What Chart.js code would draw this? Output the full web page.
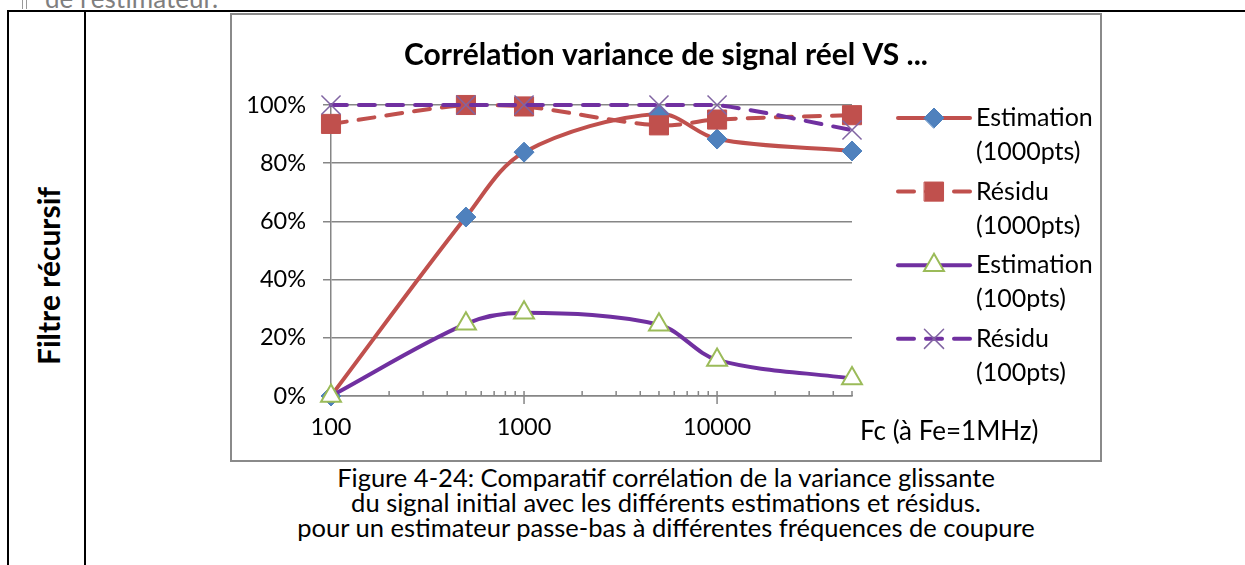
<!DOCTYPE html>
<html lang="fr">
<head>
<meta charset="UTF-8">
<title>Corrélation variance de signal réel VS ...</title>
<script src="https://cdn.jsdelivr.net/npm/chart.js"></script>
<style>
  body { margin: 0; width: 1245px; height: 565px; overflow: hidden; background: #fff; position: relative; font-family: Lato, "Open Sans", sans-serif; color: #000; }
  .prev { position: absolute; left: 45px; top: -15px; font-size: 26px; line-height: 26px; color: #7f7f7f; white-space: nowrap; }
  .prevrule { position: absolute; top: 0; width: 1px; height: 9px; background: #9a9a9a; }
  .rule { position: absolute; background: #000; }
  .side { position: absolute; left: 48px; top: 276px; transform: translate(-50%, -50%) rotate(-90deg); font-weight: 700; font-size: 30px; white-space: nowrap; }
  .box { position: absolute; left: 230px; top: 13px; width: 868px; height: 445px; border: 2px solid #8a8a8a; }
  .box canvas { display: block; }
  .caption { position: absolute; left: 230px; width: 872px; top: 465px; text-align: center; font-size: 25.5px; line-height: 25px; white-space: nowrap; }
</style>
</head>
<body>
<div class="prev">de l'estimateur.</div>
<div class="prevrule" style="left:22px"></div>
<div class="prevrule" style="left:26px"></div>
<div class="rule" style="left:7px; top:10px; width:1238px; height:2px"></div>
<div class="rule" style="left:7px; top:10px; width:2px; height:555px"></div>
<div class="rule" style="left:84px; top:10px; width:2px; height:555px"></div>
<div class="side">Filtre récursif</div>

<div class="box"><canvas id="chart" width="868" height="445"></canvas></div>

<div class="caption">Figure 4-24: Comparatif corrélation de la variance glissante<br>du signal initial avec les différents estimations et résidus.<br>pour un estimateur passe-bas à différentes fréquences de coupure</div>

<script>
// cut-off frequencies (Hz) and correlation values per series
const fc = [100, 500, 1000, 5000, 10000, 50000];
const estim1000 = [0, 0.615, 0.838, 0.97, 0.883, 0.842];
const resid1000 = [0.935, 1.0, 0.995, 0.93, 0.95, 0.965];
const estim100 = [0, 0.248, 0.286, 0.245, 0.124, 0.06];
const resid100 = [1.0, 1.0, 1.0, 1.0, 1.0, 0.914];

const seriesNames = ['Estimation (1000pts)', 'Résidu (1000pts)', 'Estimation (100pts)', 'Résidu (100pts)'];
const xTickLabels = [100, 1000, 10000];
const xMinorTicks = [200, 300, 400, 500, 600, 700, 800, 900,
  2000, 3000, 4000, 5000, 6000, 7000, 8000, 9000,
  20000, 30000, 40000, 50000];
const xAxisTitle = 'Fc (à Fe=1MHz)';

const RED = '#C0504D', BLUE = '#4F81BD', PURPLE = '#7030A0', GREEN = '#9BBB59', VIOLET = '#8064A2';
const GRID = '#868686';
const FONT = 'Lato, "Open Sans", sans-serif';

Chart.defaults.font.family = FONT;
Chart.defaults.color = '#000';

function series(label, values, style) {
  return Object.assign({
    label: label,
    data: fc.map((f, i) => ({ x: f, y: values[i] })),
    borderWidth: 4,
    tension: 0.33,
    clip: false,
    borderCapStyle: 'round',
    borderJoinStyle: 'round'
  }, style);
}

const datasets = [
  series(seriesNames[0], estim1000, { borderColor: RED, pointStyle: 'rectRot', pointRadius: 10, pointBackgroundColor: BLUE, pointBorderColor: BLUE, pointBorderWidth: 1, order: 4 }),
  series(seriesNames[1], resid1000, { borderColor: RED, borderDash: [16, 12], pointStyle: 'rect', pointRadius: 13.5, pointBackgroundColor: RED, pointBorderColor: RED, pointBorderWidth: 1, order: 3 }),
  series(seriesNames[2], estim100, { borderColor: PURPLE, pointStyle: 'triangle', pointRadius: 11.5, pointBackgroundColor: '#fff', pointBorderColor: GREEN, pointBorderWidth: 2, order: 2 }),
  series(seriesNames[3], resid100, { borderColor: PURPLE, borderDash: [16, 12], pointStyle: 'crossRot', pointRadius: 13.5, pointBorderColor: VIOLET, pointBorderWidth: 1.5, order: 1 })
];

// x-axis tick marks, axis title and the two-line legend on the right
const decor = {
  id: 'decor',
  beforeDatasetsDraw(chart) {
    const { ctx, scales: { x, y } } = chart;
    const y0 = y.getPixelForValue(0);
    ctx.save();
    ctx.strokeStyle = GRID;
    ctx.lineWidth = 1.5;
    ctx.beginPath();
    xMinorTicks.forEach(v => {
      const px = x.getPixelForValue(v);
      ctx.moveTo(px, y0);
      ctx.lineTo(px, y0 - 5);
    });
    xTickLabels.forEach(v => {
      const px = x.getPixelForValue(v);
      ctx.moveTo(px, y0 - 5);
      ctx.lineTo(px, y0 + 8);
    });
    ctx.stroke();
    ctx.restore();
  },
  afterDraw(chart) {
    const { ctx, scales: { y } } = chart;
    const y0 = y.getPixelForValue(0);
    ctx.save();
    ctx.fillStyle = '#000';
    ctx.textBaseline = 'middle';
    ctx.textAlign = 'left';
    ctx.font = '26px ' + FONT;
    ctx.fillText(xAxisTitle, 628, y0 + 36);

    ctx.font = '25px ' + FONT;
    chart.data.datasets.forEach((ds, i) => {
      const ly = 103 + i * 73.6;
      const x1 = 666, x2 = 738, xm = 702;
      ctx.save();
      ctx.strokeStyle = ds.borderColor;
      ctx.lineWidth = ds.borderWidth;
      ctx.lineCap = 'round';
      ctx.setLineDash(ds.borderDash || []);
      ctx.beginPath();
      ctx.moveTo(x1, ly);
      ctx.lineTo(x2, ly);
      ctx.stroke();
      ctx.setLineDash([]);
      ctx.fillStyle = ds.pointBackgroundColor || 'transparent';
      ctx.strokeStyle = ds.pointBorderColor;
      ctx.lineWidth = ds.pointBorderWidth;
      Chart.helpers.drawPoint(ctx, { pointStyle: ds.pointStyle, radius: ds.pointRadius, rotation: 0, borderWidth: ds.pointBorderWidth }, xm, ly);
      ctx.restore();

      const words = ds.label.split(' ');
      ctx.fillText(words[0], 744, ly);
      ctx.fillText(words[1], 744, ly + 34);
    });
    ctx.restore();
  }
};

new Chart(document.getElementById('chart'), {
  type: 'line',
  data: { datasets: datasets },
  options: {
    responsive: false,
    animation: false,
    events: [],
    layout: { padding: 0 },
    plugins: {
      legend: { display: false },
      tooltip: { enabled: false },
      title: {
        display: true,
        text: 'Corrélation variance de signal réel VS ...',
        font: { size: 30, weight: 'bold' },
        color: '#000',
        padding: { top: 22, bottom: 32 }
      }
    },
    scales: {
      x: {
        type: 'logarithmic',
        min: 100,
        max: 50000,
        grid: { display: false, drawTicks: false },
        border: { display: true, color: GRID, width: 1.5 },
        afterBuildTicks: s => { s.ticks = xTickLabels.map(v => ({ value: v })); },
        ticks: {
          autoSkip: false,
          maxRotation: 0,
          padding: 17,
          font: { size: 23.5 },
          callback: v => String(v)
        },
        afterFit: s => { s.height = 64; }
      },
      y: {
        min: 0,
        max: 1,
        grid: { color: GRID, lineWidth: 1.5, tickLength: 8 },
        border: { display: true, color: GRID, width: 1.5 },
        ticks: {
          stepSize: 0.2,
          padding: 17,
          font: { size: 23.5 },
          callback: v => Math.round(v * 100) + '%'
        },
        afterFit: s => { s.width = 99; }
      },
      legendSpace: {
        position: 'right',
        display: true,
        grid: { display: false, drawTicks: false },
        border: { display: false },
        ticks: { display: false },
        afterFit: s => { s.width = 248; }
      }
    }
  },
  plugins: [decor]
});
</script>
</body>
</html>
